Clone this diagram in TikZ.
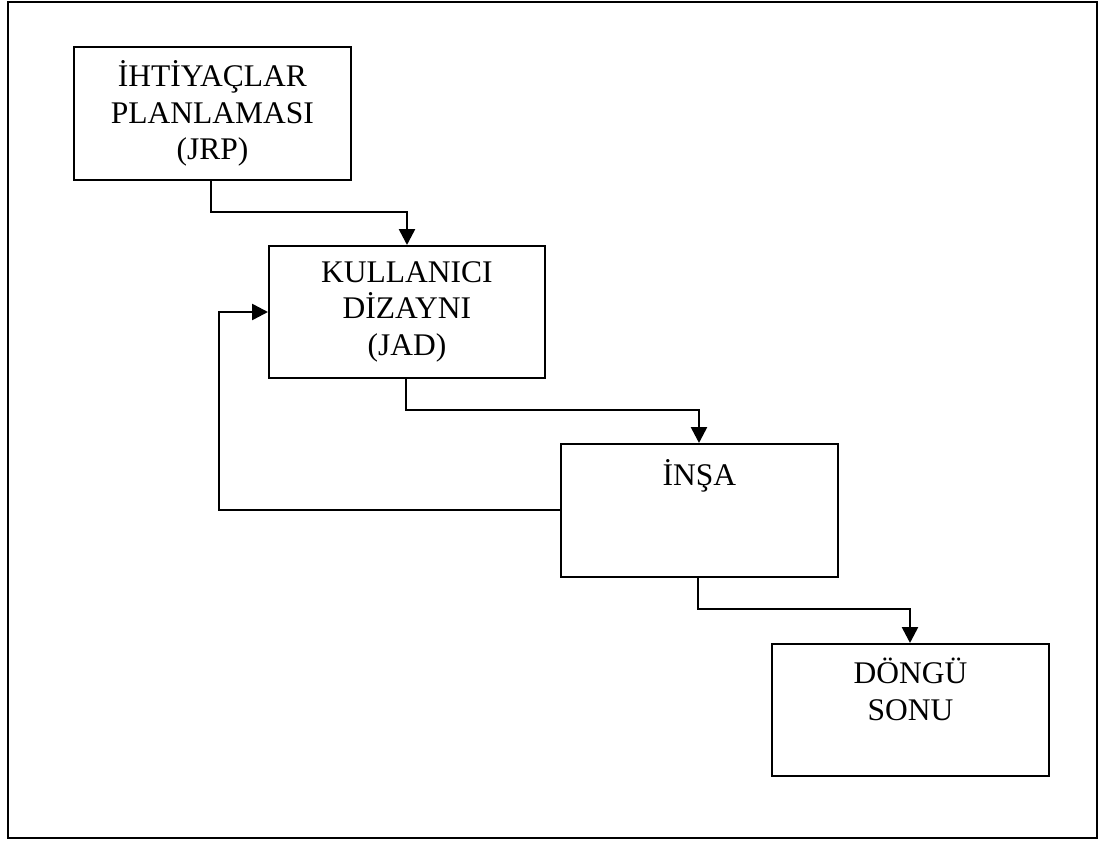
\documentclass[tikz,border=0pt]{standalone}
\usepackage{fontspec}
\setmainfont{Liberation Serif}
\usetikzlibrary{arrows.meta}
\begin{document}
\begin{tikzpicture}[x=1pt,y=-1pt,
  box/.style={draw,line width=1.8pt,inner sep=0pt,anchor=north west,align=center,
    font=\fontsize{31.5}{36.5}\selectfont},
  txt/.style={anchor=base,inner sep=0pt,align=center,font=\fontsize{31.5}{37}\selectfont},
  conn/.style={line width=2.6pt,-{Triangle[length=16pt,width=16pt]}},
  frame/.style={line width=2.2pt}]
\useasboundingbox (0,0) rectangle (1109,843);
\draw[frame] (8,2) rectangle (1097,838);
\node[box,minimum width=277pt,minimum height=133pt] (b1) at (73,46) {İHTİYAÇLAR\\PLANLAMASI\\(JRP)};
\node[box,minimum width=276pt,minimum height=132pt] (b2) at (268,245) {KULLANICI\\DİZAYNI\\(JAD)};
\node[box,minimum width=277pt,minimum height=133pt] (b3) at (560,443) {};
\node[box,minimum width=277pt,minimum height=132pt] (b4) at (771,643) {};
\node[txt] (t3) at ([yshift=-42pt]b3.north) {İNŞA};
\node[txt] (t4) at ([yshift=-77pt]b4.north) {DÖNGÜ\\SONU};
\coordinate (k1a) at (211,212);
\coordinate (k1b) at (407,212);
\coordinate (k2a) at (406,410);
\coordinate (k2b) at (699,410);
\coordinate (k3a) at (698,609);
\coordinate (k3b) at (910,609);
\coordinate (lpa) at (219,510);
\coordinate (lpb) at (219,312);
\draw[conn] (b1.south -| k1a) -- (k1a) -- (k1b) -- (b2.north -| k1b);
\draw[conn] (b2.south -| k2a) -- (k2a) -- (k2b) -- (b3.north -| k2b);
\draw[conn] (b3.south -| k3a) -- (k3a) -- (k3b) -- (b4.north -| k3b);
\draw[conn] (b3.west |- lpa) -- (lpa) -- (lpb) -- (b2.west |- lpb);
\end{tikzpicture}
\end{document}
